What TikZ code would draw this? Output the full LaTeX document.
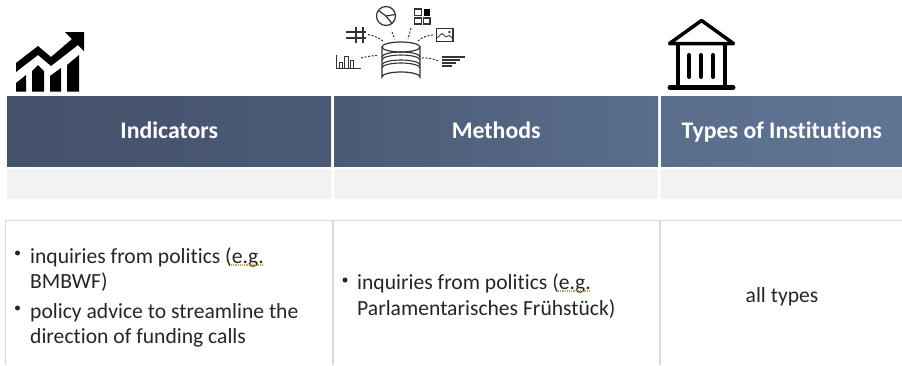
\documentclass[tikz,border=0pt]{standalone}
\usepackage{fontspec}
\setmainfont[Ligatures=NoCommon]{Carlito}
\usetikzlibrary{calc}
\definecolor{txt}{HTML}{262626}
\definecolor{rowgray}{HTML}{F2F2F2}
\definecolor{gridgray}{HTML}{D9D9D9}
\definecolor{hA}{HTML}{44516A}
\definecolor{hB}{HTML}{4A5A76}
\definecolor{hD}{HTML}{5A6E8C}
\definecolor{hE}{HTML}{5F7393}
\definecolor{iconc}{HTML}{333333}
\definecolor{squig}{HTML}{C9A24B}
\tikzset{
  x=1pt,y=-1pt,
  hdr/.style={draw=none,inner sep=0pt,minimum height=70pt,anchor=north west,font=\fontsize{23.8}{26}\selectfont\bfseries,text=white,text height=20pt,text depth=5pt},
  rowbox/.style={fill=rowgray,draw=none,inner sep=0pt,minimum height=30pt,anchor=north west},
  body/.style={anchor=base west,inner sep=0pt,text=txt,font=\fontsize{21.6}{24}\selectfont},
  bul/.style={circle,fill=txt,draw=none,inner sep=0pt,minimum size=5pt},
  grid/.style={draw=gridgray,line width=1.6pt},
  squigl/.style={draw=squig,line width=1.2pt,dash pattern=on 1.2pt off 1pt},
  ic/.style={draw=iconc,line width=1.2pt,fill=none},
  dots/.style={draw=iconc,line width=1pt,dash pattern=on 2pt off 1.6pt},
  bank/.style={draw=black,line cap=round,line join=round},
}
\begin{document}
\begin{tikzpicture}
\useasboundingbox (0,0) rectangle (902,365);
\fill[white] (0,0) rectangle (902,365);
% headers
\node[hdr,minimum width=324pt,left color=hA,right color=hB] (h1) at (7,96) {Indicators};
\node[hdr,minimum width=324pt,left color=hB,right color=hD] (h2) at (334,96) {Methods};
\node[hdr,minimum width=241pt,left color=hD,right color=hE] (h3) at (661,96) {Types of Institutions};
% gray row
\node[rowbox,minimum width=324pt] (r1) at (7,169) {};
\node[rowbox,minimum width=324pt] (r2) at (334,169) {};
\node[rowbox,minimum width=241pt] (r3) at (661,169) {};
% table grid
\draw[grid] (5.5,365) -- (5.5,220.5) -- (902,220.5);
\draw[grid] (333,220.5) -- (333,365);
\draw[grid] (660,220.5) -- (660,365);
% body text
\node[bul] (b1) at (17.5,253) {};
\node[body] (t1) at (30,263) {inquiries from politics (e.g.};
\node[body] (t2) at (30,288) {BMBWF)};
\node[bul] (b2) at (17.5,308) {};
\node[body] (t3) at (30,318) {policy advice to streamline the};
\node[body] (t4) at (30,343) {direction of funding calls};
\node[bul] (b3) at (345,280) {};
\node[body] (t5) at (357,289) {inquiries from politics (e.g.};
\node[body] (t6) at (357,315) {Parlamentarisches Frühstück)};
\node[body,anchor=base] (t7) at (782,302) {all types};
\draw[squigl] (231,265) -- (263,265);
\draw[squigl] (558,291) -- (591,291);
% chart icon
\fill[black] (16,63) -- (38,46) -- (51,57) -- (72,39) -- (65,32) -- (84,32) -- (84,51) -- (78,45) -- (51,66) -- (38,55) -- (16,72) -- cycle;
\fill[black] (16,91.5) -- (16,83) -- (26,75) -- (26,91.5) -- cycle;
\fill[black] (32,91.5) -- (32,71) -- (38,65) -- (44,71) -- (44,91.5) -- cycle;
\fill[black] (50,91.5) -- (50,76) -- (61,68) -- (61,91.5) -- cycle;
\fill[black] (67,91.5) -- (67,65) -- (79,55) -- (79,91.5) -- cycle;
% database icon
\foreach \yy in {57,60,65,68}{
  \draw[ic,line width=1.1pt] (382,\yy) arc[start angle=180,end angle=360,x radius=19,y radius=5];
}
\draw[ic] (382,47) -- (382,77) arc[start angle=180,end angle=360,x radius=19,y radius=5] -- (420,47);
\draw[ic] (401,47) ellipse[x radius=19,y radius=5];
% pie
\draw[ic] (386,16) circle[radius=9.5];
\draw[ic] (378.5,10.5) -- (386,16) -- (395,14.5);
\draw[ic] (386,16) -- (392,23.5);
% grid
\draw[ic] (414.5,9) rectangle (421.5,15.5);
\fill[black] (423.5,9) rectangle (430,15.5);
\draw[ic] (414.5,18) rectangle (421.5,24);
\draw[ic] (423.5,18) rectangle (430,24);
% image
\draw[ic] (436.5,28.5) rectangle (453,41.5);
\draw[ic,line width=.8pt] (437,38) -- (442,33.5) -- (446,37) -- (449,35.5) -- (452.5,38);
\fill[iconc] (449.5,32) circle[radius=1.3];
% hash
\draw[ic] (356,27) -- (356,43) (363,27) -- (363,43) (346,32) -- (366,32) (346,38) -- (366,38);
% bars
\draw[ic,line width=1pt] (336,55) -- (336,68) -- (361,68);
\draw[ic,line width=.8pt] (339,68) -- (339,62) -- (342,62) -- (342,68) (344.5,68) -- (344.5,56.5) -- (348,56.5) -- (348,68) (350,68) -- (350,60) -- (353,60) -- (353,68);
% text lines
\draw[ic] (442,57) -- (465,57) (442,60) -- (460,60) (442,63) -- (456,63) (442,66) -- (452,66);
% dotted connectors
\draw[dots] (361,58) .. controls (368,56.5) and (372,55.5) .. (378,55.5);
\draw[dots] (368,34.5) .. controls (374,35.5) and (379,38) .. (383,41);
\draw[dots] (392,32) .. controls (393,35) and (394,36.5) .. (395,39);
\draw[dots] (411,28) .. controls (410,32) and (409,35) .. (408,39);
\draw[dots] (433,35) .. controls (426,35.5) and (421,38) .. (418,41);
\draw[dots] (422,58) .. controls (428,57.5) and (433,59) .. (439,61);
% bank icon
\draw[bank,line width=3.5pt] (669.5,43.5) -- (701.5,20.5) -- (733.5,43.5) -- cycle;
\draw[bank,line width=3.5pt,line cap=butt] (678,44) -- (678,87) (725,44) -- (725,87);
\draw[bank,line width=4pt] (689,55) -- (689,77) (701,55) -- (701,77) (713,55) -- (713,77);
\draw[bank,line width=5pt] (670,87.5) -- (733,87.5);
\end{tikzpicture}
\end{document}
